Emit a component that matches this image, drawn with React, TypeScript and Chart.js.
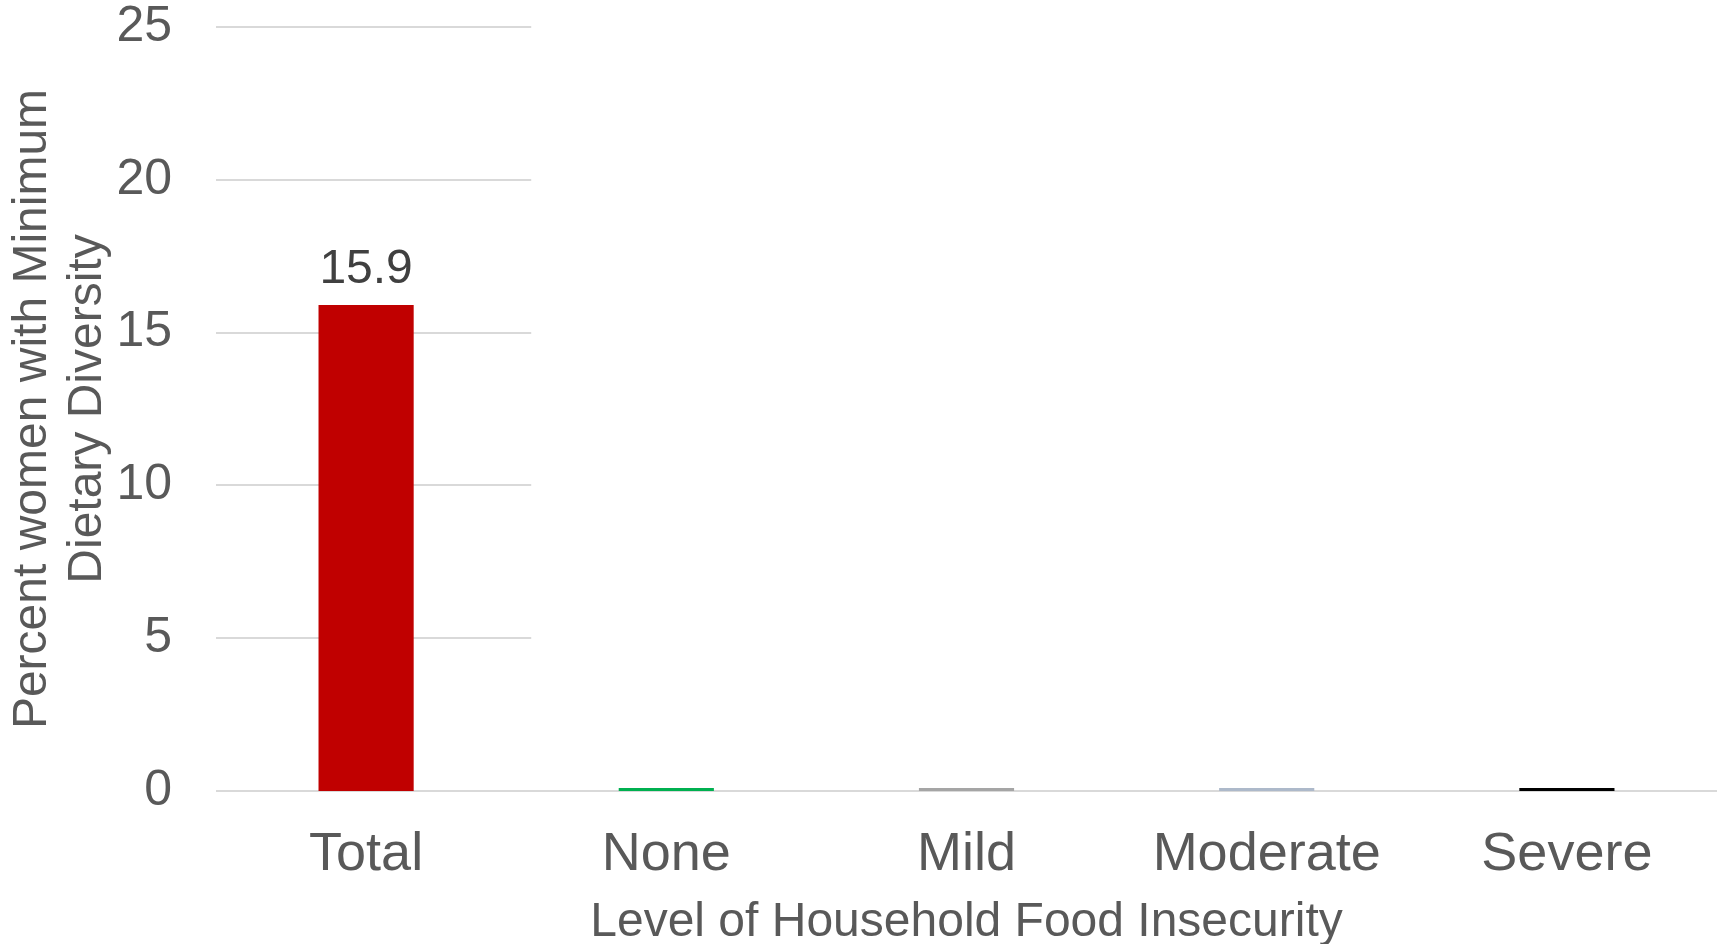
import React, { useEffect, useRef } from "react";
import { Chart, registerables } from "chart.js";

Chart.register(...registerables);

const categories = ["Total", "None", "Mild", "Moderate", "Severe"];
const values = [15.9, 0.1, 0.1, 0.1, 0.1];
const barColors = ["#C00000", "#00B050", "#A5A5A5", "#ADB9CA", "#000000"];
const valueLabels = ["15.9", "", "", "", ""];
const yTicks = [0, 5, 10, 15, 20, 25];
const xTitle = "Level of Household Food Insecurity";
const yTitle = ["Percent women with Minimum", "Dietary Diversity"];

const FONT = "'Liberation Sans', Arial, sans-serif";

const gridPlugin = {
  id: "partialGrid",
  beforeDatasetsDraw(chart: any) {
    const { ctx, chartArea, scales } = chart;
    const x = scales.x;
    const y = scales.y;
    const step = x.getPixelForValue(1) - x.getPixelForValue(0);
    const partialRight = x.getPixelForValue(0) + step * 0.55;
    ctx.save();
    ctx.strokeStyle = "#D9D9D9";
    ctx.lineWidth = 2;
    yTicks.forEach((v) => {
      const py = Math.round(y.getPixelForValue(v));
      ctx.beginPath();
      ctx.moveTo(chartArea.left, py);
      ctx.lineTo(v === 0 ? chartArea.right : partialRight, py);
      ctx.stroke();
    });
    ctx.restore();
  },
  afterDatasetsDraw(chart: any) {
    const { ctx } = chart;
    const meta = chart.getDatasetMeta(0);
    ctx.save();
    ctx.font = `48px ${FONT}`;
    ctx.fillStyle = "#404040";
    ctx.textAlign = "center";
    ctx.textBaseline = "alphabetic";
    meta.data.forEach((bar: any, i: number) => {
      const t = valueLabels[i];
      if (!t) return;
      ctx.fillText(t, bar.x, bar.y - 22);
    });
    ctx.restore();
  },
};

export default function App() {
  const ref = useRef<HTMLCanvasElement>(null);
  useEffect(() => {
    document.body.style.margin = "0";
    const chart = new Chart(ref.current!, {
      type: "bar",
      data: {
        labels: categories,
        datasets: [
          {
            data: values,
            backgroundColor: barColors,
            borderWidth: 0,
            barPercentage: 0.317,
            categoryPercentage: 1,
          },
        ],
      },
      plugins: [gridPlugin],
      options: {
        animation: false,
        responsive: false,
        maintainAspectRatio: false,
        layout: { padding: { top: 27, right: 6, bottom: 0, left: 0 } },
        plugins: {
          legend: { display: false },
          tooltip: { enabled: false },
        },
        scales: {
          x: {
            grid: { display: false, drawTicks: false },
            border: { display: false },
            ticks: {
              color: "#595959",
              font: { family: FONT, size: 54, lineHeight: 1.2 },
              padding: 32,
              maxRotation: 0,
            },
            title: {
              display: true,
              text: xTitle,
              color: "#595959",
              font: { family: FONT, size: 48, lineHeight: 0.875 },
              padding: { top: 0, bottom: 0 },
            },
            afterFit: (s: any) => {
              s.height = 153;
              s.paddingLeft = 0;
              s.paddingRight = 0;
            },
          },
          y: {
            min: 0,
            max: 25,
            grid: { display: false, drawTicks: false },
            border: { display: false },
            ticks: {
              stepSize: 5,
              color: "#595959",
              font: { family: FONT, size: 50, lineHeight: 1.0 },
              padding: 44,
            },
            title: {
              display: true,
              text: yTitle,
              color: "#595959",
              font: { family: FONT, size: 48, lineHeight: 1.146 },
              padding: { top: 5.5, bottom: 0 },
            },
            afterFit: (s: any) => {
              s.width = 216;
              s.paddingTop = 0;
              s.paddingBottom = 0;
            },
          },
        },
      },
    });
    return () => chart.destroy();
  }, []);
  return (
    <div style={{ width: 1723, height: 944 }}>
      <canvas ref={ref} width={1723} height={944} style={{ display: "block" }} />
    </div>
  );
}
